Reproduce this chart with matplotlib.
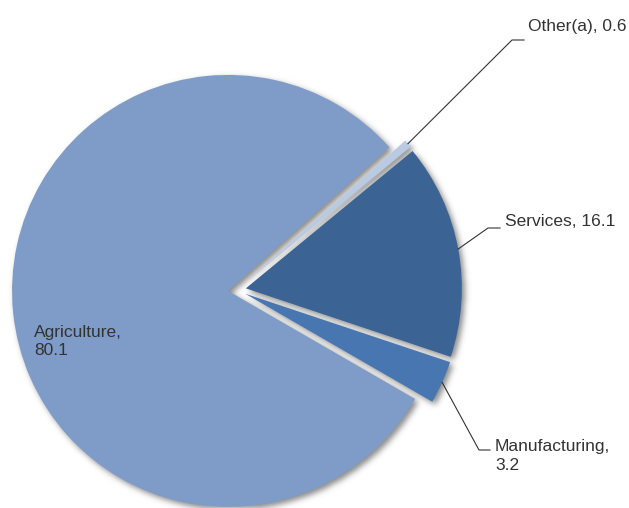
import numpy as np
import matplotlib.pyplot as plt

# Employment by sector, per cent
sectors = ['Agriculture', 'Manufacturing', 'Services', 'Other(a)']
shares = [80.1, 3.2, 16.1, 0.6]
colors = ['#7f9cc8', '#4776b0', '#3b6494', '#b9cae3']

W, H = 629, 508
plt.rcParams['font.family'] = ['Liberation Sans', 'DejaVu Sans']

fig = plt.figure(figsize=(W / 100, H / 100), dpi=100)
ax = fig.add_axes([0, 0, 1, 1])

# explode is in data units here (1 unit = 1 px)
wedges, _ = ax.pie(shares, colors=colors, startangle=41.64, counterclock=True,
                   explode=[9] * len(shares), radius=216, center=(237, 218),
                   wedgeprops=dict(linewidth=0, zorder=3))

# soft drop shadow built from the wedge outlines, shifted right and down
gx, gy = np.meshgrid(np.arange(W) + 0.5, np.arange(H) + 0.5)
pts = np.column_stack([gx.ravel() - 3, gy.ravel() + 3])
mask = np.zeros(W * H, dtype=float)
for w in wedges:
    mask = np.maximum(mask, w.get_path().contains_points(pts))
mask = mask.reshape(H, W)

sigma = 3.0
k = np.arange(-10, 11)
kern = np.exp(-k ** 2 / (2 * sigma ** 2))
kern /= kern.sum()
blur = np.apply_along_axis(lambda r: np.convolve(r, kern, mode='same'), 1, mask)
blur = np.apply_along_axis(lambda c: np.convolve(c, kern, mode='same'), 0, blur)

shadow = np.zeros((H, W, 4))
shadow[..., :3] = 0.35
shadow[..., 3] = 0.7 * blur
ax.imshow(shadow, extent=(0, W, 0, H), origin='lower', zorder=1, interpolation='bilinear')

# leader lines and labels
txt = dict(fontsize=12.5, color='#333333', va='center', ha='left', linespacing=1.3)
label_pos = {
    'Other(a)': ((512, 468), (524, 468), (528, 481), '{}, {}'),
    'Services': ((488, 280), (500, 280), (505, 287), '{}, {}'),
    'Manufacturing': ((479, 58), (490, 58), (495, 52), '{},\n{}'),
}
for w, name, val in zip(wedges, sectors, shares):
    if name in label_pos:
        elbow, end, tpos, fmt = label_pos[name]
        mid = np.deg2rad((w.theta1 + w.theta2) / 2)
        ax0 = w.center[0] + w.r * np.cos(mid)
        ay0 = w.center[1] + w.r * np.sin(mid)
        ax.plot([ax0, elbow[0], end[0]], [ay0, elbow[1], end[1]],
                color='#333333', lw=0.8, zorder=4)
        ax.text(tpos[0], tpos[1], fmt.format(name, val), **txt)
    else:
        ax.text(34, 166.5, '{},\n{}'.format(name, val), zorder=5, **txt)

ax.set_xlim(0, W)
ax.set_ylim(0, H)
ax.set_aspect('auto')
ax.axis('off')

fig.savefig('out.png', dpi=100)
